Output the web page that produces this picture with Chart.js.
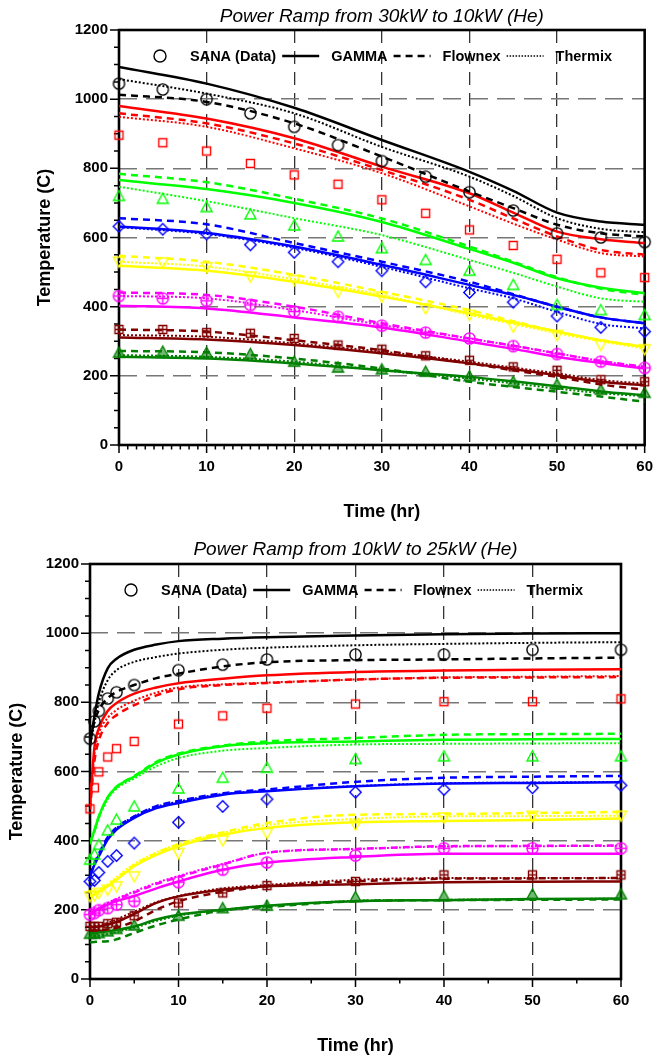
<!DOCTYPE html>
<html>
<head>
<meta charset="utf-8">
<script src="https://cdn.jsdelivr.net/npm/chart.js@4.4.1/dist/chart.umd.min.js"></script>
<style>
html, body { margin: 0; padding: 0; background: #fff; }
#wrap { position: relative; width: 658px; height: 1061px; }
canvas { position: absolute; left: 0; }
</style>
</head>
<body>
<div id="wrap">
  <canvas id="topChart" width="658" height="530" style="top:0"></canvas>
  <canvas id="bottomChart" width="658" height="531" style="top:530px"></canvas>
</div>
<script>
// group order: black, red, lime, blue, yellow, magenta, maroon, dark green
const groupColors = ['#000000', '#ff0000', '#00ff00', '#0000ff', '#ffff00', '#ff00ff', '#800000', '#008000'];
const groupMarkers = ['circle', 'square', 'triangle', 'diamond', 'triangleDown', 'circlePlus', 'squarePlus', 'triangleFilled'];
const legendNames = ['SANA (Data)', 'GAMMA', 'Flownex', 'Thermix'];

// ---- Power ramp 30kW -> 10kW ----
const topTitle = 'Power Ramp from 30kW to 10kW (He)';
const topDataHours = [0, 5, 10, 15, 20, 25, 30, 35, 40, 45, 50, 55, 60];
const topLineHours = [0, 10, 20, 30, 40, 45, 50, 55, 60];
const topSana = [
  [1045, 1028, 1000, 959, 920, 867, 821, 776, 731, 678, 612, 600, 587],
  [896, 874, 850, 814, 781, 754, 709, 670, 622, 577, 537, 498, 484],
  [720, 712, 688, 667, 635, 603, 569, 535, 504, 463, 405, 390, 376],
  [632, 624, 610, 579, 557, 530, 504, 472, 441, 413, 373, 340, 328],
  [530, 528, 514, 487, 477, 443, 429, 395, 376, 342, 318, 289, 277],
  [431, 424, 417, 405, 386, 371, 345, 325, 308, 286, 263, 241, 223],
  [334, 334, 325, 323, 308, 289, 277, 258, 245, 226, 216, 189, 183],
  [267, 270, 267, 263, 241, 224, 219, 212, 199, 183, 175, 160, 151]
];
const topGamma = [
  [1093, 1045, 975, 882, 790, 735, 672, 646, 637],
  [980, 944, 887, 805, 728, 672, 617, 595, 584],
  [766, 740, 700, 645, 567, 527, 482, 455, 439],
  [632, 613, 574, 521, 463, 434, 400, 369, 352],
  [518, 504, 472, 429, 381, 354, 328, 303, 284],
  [403, 395, 369, 340, 299, 278, 255, 237, 221],
  [311, 305, 289, 265, 236, 220, 202, 183, 173],
  [255, 250, 236, 216, 197, 184, 170, 155, 144]
];
const topFlownex = [
  [1013, 992, 930, 834, 733, 685, 637, 612, 603],
  [959, 930, 872, 795, 709, 655, 603, 564, 550],
  [784, 760, 712, 655, 574, 530, 485, 452, 434],
  [656, 638, 584, 530, 472, 436, 400, 369, 352],
  [547, 530, 492, 443, 390, 358, 328, 303, 284],
  [441, 434, 400, 352, 308, 287, 265, 243, 226],
  [334, 328, 303, 274, 236, 216, 197, 175, 160],
  [272, 268, 250, 221, 183, 168, 154, 140, 125]
];
const topThermix = [
  [1058, 1016, 959, 862, 776, 720, 656, 625, 615],
  [949, 920, 858, 786, 690, 640, 594, 555, 545],
  [747, 705, 656, 607, 535, 498, 458, 424, 414],
  [630, 610, 570, 515, 453, 424, 385, 350, 337],
  [530, 516, 479, 434, 376, 350, 323, 300, 279],
  [431, 424, 390, 347, 308, 287, 265, 243, 224],
  [318, 313, 294, 270, 241, 224, 207, 188, 178],
  [260, 255, 241, 216, 192, 178, 163, 150, 141]
];

// ---- Power ramp 10kW -> 25kW ----
const bottomTitle = 'Power Ramp from 10kW to 25kW (He)';
const bottomDataHours = [0, 0.5, 1, 2, 3, 5, 10, 15, 20, 30, 40, 50, 60];
const bottomLineHours = [0, 0.5, 1, 2, 3, 5, 7.5, 10, 15, 20, 30, 40, 50, 60];
const bottomSana = [
  [695, 745, 775, 811, 829, 850, 893, 909, 924, 938, 938, 952, 952],
  [492, 553, 599, 642, 666, 687, 737, 761, 783, 795, 802, 802, 810],
  [345, 360, 388, 430, 461, 499, 551, 582, 611, 636, 644, 644, 644],
  [282, 285, 308, 340, 357, 393, 453, 499, 520, 540, 548, 553, 560],
  [239, 242, 249, 258, 268, 297, 364, 401, 422, 446, 467, 472, 472],
  [186, 191, 199, 205, 215, 225, 280, 316, 337, 357, 378, 378, 378],
  [152, 152, 152, 160, 164, 183, 220, 249, 270, 282, 301, 301, 301],
  [131, 131, 133, 138, 145, 155, 183, 205, 212, 237, 240, 245, 245]
];
const bottomGamma = [
  [675, 760, 826, 898, 926, 952, 967, 977, 984, 988, 993, 997, 999, 1000],
  [500, 670, 725, 775, 798, 825, 843, 855, 868, 878, 888, 892, 894, 896],
  [393, 430, 470, 525, 555, 585, 625, 649, 673, 682, 687, 692, 693, 694],
  [295, 330, 355, 403, 432, 466, 494, 509, 533, 543, 557, 565, 567, 569],
  [240, 245, 252, 268, 287, 326, 359, 384, 417, 437, 453, 457, 460, 464],
  [190, 196, 203, 215, 225, 240, 262, 282, 316, 336, 353, 362, 362, 362],
  [150, 150, 152, 157, 165, 188, 220, 239, 258, 268, 274, 280, 281, 282],
  [133, 134, 135, 138, 142, 152, 172, 186, 200, 212, 225, 228, 231, 233]
];
const bottomFlownex = [
  [690, 745, 778, 812, 830, 850, 870, 883, 904, 916, 922, 924, 927, 929],
  [490, 630, 690, 740, 763, 792, 820, 838, 850, 856, 866, 871, 872, 873],
  [393, 430, 470, 525, 556, 587, 628, 652, 675, 687, 697, 706, 708, 709],
  [300, 335, 362, 410, 438, 470, 500, 515, 537, 548, 570, 582, 585, 587],
  [240, 245, 253, 270, 290, 330, 364, 390, 424, 451, 475, 477, 480, 483],
  [188, 195, 203, 217, 230, 250, 275, 295, 331, 365, 376, 384, 385, 386],
  [140, 140, 141, 143, 148, 167, 200, 225, 252, 268, 282, 290, 291, 292],
  [106, 107, 108, 109, 115, 133, 155, 172, 198, 208, 225, 228, 229, 230]
];
const bottomThermix = [
  [670, 740, 800, 864, 893, 917, 931, 941, 952, 958, 965, 969, 972, 974],
  [500, 650, 710, 755, 778, 805, 828, 843, 852, 857, 866, 872, 874, 876],
  [390, 425, 465, 520, 550, 580, 615, 639, 660, 668, 678, 680, 681, 682],
  [298, 333, 360, 408, 436, 470, 498, 513, 535, 544, 558, 566, 568, 570],
  [242, 248, 256, 274, 295, 333, 366, 390, 422, 445, 463, 470, 471, 472],
  [190, 197, 205, 220, 232, 253, 278, 298, 333, 365, 376, 383, 384, 385],
  [152, 153, 155, 162, 172, 195, 222, 240, 262, 272, 287, 292, 292, 292],
  [123, 124, 126, 130, 136, 148, 168, 183, 200, 211, 226, 229, 231, 232]
];

const FONT = "'Liberation Sans', Arial, sans-serif";

// small canvases used as point styles for the data markers
function markerImage(kind, color) {
  const c = document.createElement('canvas');
  c.width = 15; c.height = 15;
  const g = c.getContext('2d');
  g.strokeStyle = color;
  g.fillStyle = color;
  g.lineWidth = 1.4;
  g.beginPath();
  if (kind === 'circle' || kind === 'circlePlus') {
    g.arc(7.5, 7.5, 5.6, 0, Math.PI * 2);
    if (kind === 'circlePlus') {
      g.moveTo(1.5, 7.5); g.lineTo(13.5, 7.5);
      g.moveTo(7.5, 1.5); g.lineTo(7.5, 13.5);
    }
  } else if (kind === 'square' || kind === 'squarePlus') {
    g.rect(3.5, 3.5, 8, 8);
    if (kind === 'squarePlus') {
      g.moveTo(3.5, 7.5); g.lineTo(11.5, 7.5);
      g.moveTo(7.5, 3.5); g.lineTo(7.5, 11.5);
    }
  } else if (kind === 'triangle' || kind === 'triangleFilled') {
    g.moveTo(7.5, 2); g.lineTo(13, 12); g.lineTo(2, 12); g.closePath();
    if (kind === 'triangleFilled') {
      g.globalAlpha = 0.55; g.fill(); g.globalAlpha = 1;
    }
  } else if (kind === 'triangleDown') {
    g.moveTo(2, 3); g.lineTo(13, 3); g.lineTo(7.5, 13); g.closePath();
  } else if (kind === 'diamond') {
    g.moveTo(7.5, 1.8); g.lineTo(13.2, 7.5); g.lineTo(7.5, 13.2); g.lineTo(1.8, 7.5); g.closePath();
  }
  g.stroke();
  return c;
}

function lineSet(hours, values, color, dash, width) {
  return {
    data: hours.map((h, k) => ({ x: h, y: values[k] })),
    borderColor: color,
    borderWidth: width,
    borderDash: dash,
    pointRadius: 0,
    fill: false,
    tension: 0.4,
    cubicInterpolationMode: 'monotone'
  };
}

function buildDatasets(dataHours, lineHours, sana, gamma, flownex, thermix) {
  const sets = [];
  groupColors.forEach((col, i) => {
    sets.push({
      data: dataHours.map((h, k) => ({ x: h, y: sana[i][k] })),
      showLine: false,
      pointStyle: markerImage(groupMarkers[i], col),
      pointRadius: 6,
      borderColor: col,
      backgroundColor: col,
      clip: false
    });
    sets.push(lineSet(lineHours, gamma[i], col, [], 2.5));
    sets.push(lineSet(lineHours, flownex[i], col, [7, 5], 2.5));
    sets.push(lineSet(lineHours, thermix[i], col, [2, 2], 2));
  });
  return sets;
}

// box around the plot plus major/minor tick marks
const axisFrame = {
  id: 'axisFrame',
  beforeDatasetsDraw(chart, args, opts) {
    const { ctx, chartArea: a, scales } = chart;
    ctx.save();
    ctx.strokeStyle = '#000';
    ctx.lineWidth = 1.5;
    ctx.beginPath();
    scales.x.ticks.forEach(t => {
      const px = scales.x.getPixelForValue(t.value);
      const len = t.value % 10 === 0 ? 8 : 4.5;
      ctx.moveTo(px, a.bottom); ctx.lineTo(px, a.bottom + len);
    });
    scales.y.ticks.forEach(t => {
      const py = scales.y.getPixelForValue(t.value);
      const len = t.value % 200 === 0 ? 9 : 5;
      ctx.moveTo(a.left - len, py); ctx.lineTo(a.left, py);
    });
    ctx.stroke();
    ctx.lineWidth = 2.6;
    ctx.strokeRect(a.left, a.top, a.right - a.left, a.bottom - a.top);
    ctx.restore();
  }
};

// legend drawn inside the plot area, like the original
const innerLegend = {
  id: 'innerLegend',
  afterDatasetsDraw(chart) {
    const { ctx, chartArea: a } = chart;
    const y = a.top + 26;
    ctx.save();
    ctx.font = 'bold 14.5px ' + FONT;
    ctx.fillStyle = '#000';
    ctx.strokeStyle = '#000';
    ctx.textBaseline = 'middle';
    ctx.lineWidth = 1.4;
    ctx.beginPath();
    ctx.arc(a.left + 41, y, 6, 0, Math.PI * 2);
    ctx.stroke();
    let x = a.left + 71;
    const dashes = [[], [7, 5], [1.5, 1.5]];
    for (let i = 0; i < legendNames.length; i++) {
      ctx.fillText(legendNames[i], x, y + 1);
      x += ctx.measureText(legendNames[i]).width;
      if (i < 3) {
        x += 6;
        ctx.setLineDash(dashes[i]);
        ctx.lineWidth = i === 2 ? 1.5 : 2.5;
        ctx.beginPath();
        ctx.moveTo(x, y); ctx.lineTo(x + 37, y);
        ctx.stroke();
        ctx.setLineDash([]);
        x += 49;
      }
    }
    ctx.restore();
  }
};

function makeChart(id, geo) {
  const ctx = document.getElementById(id).getContext('2d');
  return new Chart(ctx, {
    type: 'line',
    data: { datasets: buildDatasets(geo.dataHours, geo.lineHours, geo.sana, geo.gamma, geo.flownex, geo.thermix) },
    options: {
      responsive: false,
      animation: false,
      layout: { padding: { left: 0, right: geo.padRight, top: 0, bottom: 0 } },
      plugins: {
        legend: { display: false },
        tooltip: { enabled: false },
        title: {
          display: true,
          text: geo.title,
          fullSize: false,
          color: '#000',
          font: { family: FONT, size: 19, style: 'italic', weight: 'normal' },
          padding: { top: geo.titleTop, bottom: geo.titleBottom }
        }
      },
      scales: {
        x: {
          type: 'linear',
          min: 0, max: 60,
          afterBuildTicks: s => {
            const t = [];
            for (let v = 0; v <= 60; v += geo.xMinor) t.push({ value: v });
            s.ticks = t;
          },
          ticks: {
            autoSkip: false, maxRotation: 0, padding: 5,
            color: '#000',
            font: { family: FONT, size: 15, weight: 'bold' },
            callback: v => (v % 10 === 0 ? v : '')
          },
          grid: {
            color: c => (c.tick && c.tick.value % 10 === 0 && c.tick.value > 0 && c.tick.value < 60) ? '#333' : 'transparent',
            lineWidth: 1.3,
            drawTicks: true, tickLength: 8, tickColor: 'transparent'
          },
          border: { display: false, dash: [13, 8] },
          title: {
            display: true, text: 'Time (hr)', color: '#000',
            font: { family: FONT, size: 18, weight: 'bold' },
            padding: { top: 0, bottom: geo.xTitlePad }
          },
          afterFit: s => { s.height = geo.xHeight; }
        },
        y: {
          min: 0, max: 1200,
          afterBuildTicks: s => {
            const t = [];
            for (let v = 0; v <= 1200; v += 50) t.push({ value: v });
            s.ticks = t;
          },
          ticks: {
            autoSkip: false, padding: 3,
            color: '#000',
            font: { family: FONT, size: 15, weight: 'bold' },
            callback: v => (v % 200 === 0 ? v : '')
          },
          grid: {
            color: c => (c.tick && c.tick.value % 200 === 0 && c.tick.value > 0 && c.tick.value < 1200) ? '#777' : 'transparent',
            lineWidth: 1.5,
            drawTicks: true, tickLength: 8, tickColor: 'transparent'
          },
          border: { display: false, dash: [18, 9] },
          title: {
            display: true, text: 'Temperature (C)', color: '#000',
            font: { family: FONT, size: 18, weight: 'bold' },
            padding: { top: geo.yTitlePad, bottom: 0 }
          },
          afterFit: s => { s.width = geo.yWidth; }
        }
      }
    },
    plugins: [axisFrame, innerLegend]
  });
}

makeChart('topChart', {
  title: topTitle, dataHours: topDataHours, lineHours: topLineHours,
  sana: topSana, gamma: topGamma, flownex: topFlownex, thermix: topThermix,
  padRight: 9, titleTop: 5.6, titleBottom: 1.6, xMinor: 1,
  xHeight: 85, xTitlePad: 7.2, yWidth: 119, yTitlePad: 34
});

makeChart('bottomChart', {
  title: bottomTitle, dataHours: bottomDataHours, lineHours: bottomLineHours,
  sana: bottomSana, gamma: bottomGamma, flownex: bottomFlownex, thermix: bottomThermix,
  padRight: 37, titleTop: 8.6, titleBottom: 2.6, xMinor: 5,
  xHeight: 82, xTitlePad: 4.2, yWidth: 90, yTitlePad: 6.2
});
</script>
</body>
</html>
